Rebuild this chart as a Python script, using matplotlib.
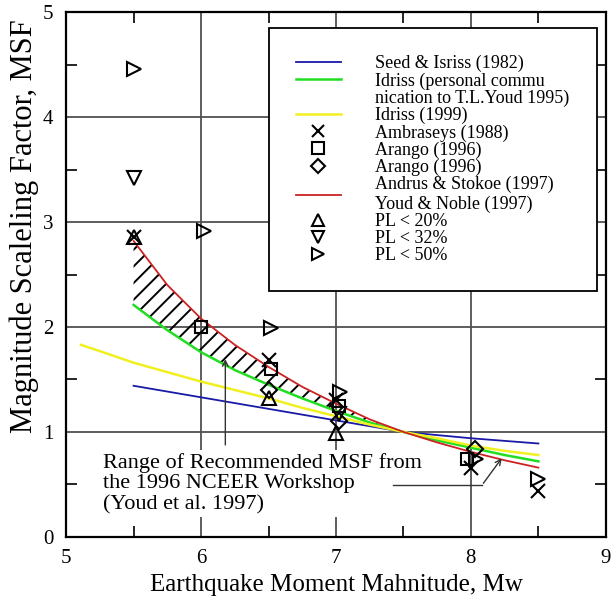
import numpy as np
import matplotlib
matplotlib.use("Agg")
import matplotlib.pyplot as plt
from matplotlib.lines import Line2D
from matplotlib.ticker import MultipleLocator

plt.rcParams['font.family'] = ['Liberation Serif', 'DejaVu Serif']
plt.rcParams['hatch.linewidth'] = 1.4

# curves (Mw, MSF)
seed_m = [5.5, 6.0, 6.5, 7.0, 7.5, 8.0, 8.5]
seed_msf = [1.44, 1.33, 1.22, 1.11, 1.00, 0.94, 0.89]

idriss95_m = [5.5, 5.75, 6.0, 6.25, 6.5, 6.75, 7.0, 7.25, 7.5, 7.75, 8.0, 8.25, 8.5]
idriss95_msf = [2.21, 1.97, 1.76, 1.59, 1.45, 1.32, 1.20, 1.09, 1.00, 0.92, 0.85, 0.78, 0.72]

idriss99_m = [5.11, 5.25, 5.5, 5.75, 6.0, 6.25, 6.5, 6.75, 7.0, 7.25, 7.5, 7.75, 8.0, 8.25, 8.5]
idriss99_msf = [1.83, 1.77, 1.66, 1.57, 1.48, 1.40, 1.32, 1.23, 1.15, 1.07, 1.00, 0.94, 0.87, 0.82, 0.78]

andrus_m = [5.5, 5.75, 6.0, 6.25, 6.5, 6.75, 7.0, 7.25, 7.5, 7.75, 8.0, 8.25, 8.5]
andrus_msf = [2.82, 2.40, 2.08, 1.83, 1.62, 1.43, 1.27, 1.12, 1.00, 0.90, 0.81, 0.73, 0.66]

# point data
ambraseys_m = [5.5, 6.5, 7.0, 8.0, 8.5]
ambraseys_msf = [2.86, 1.69, 1.30, 0.66, 0.44]
arango_sq_m = [6.0, 6.52, 7.02, 7.97]
arango_sq_msf = [2.00, 1.60, 1.25, 0.74]
arango_di_m = [6.5, 7.02, 8.03]
arango_di_msf = [1.40, 1.10, 0.84]
pl20_m = [5.5, 6.5, 7.0]
pl20_msf = [2.86, 1.32, 0.99]
pl32_m = [5.5, 7.02]
pl32_msf = [3.42, 1.17]
pl50_m = [5.5, 6.02, 6.52, 7.03, 8.04, 8.5]
pl50_msf = [4.46, 2.91, 1.99, 1.38, 0.74, 0.55]

fig = plt.figure(figsize=(6.12, 6.06), dpi=100)
ax = fig.add_axes([0.108, 0.114, 0.882, 0.866])

ax.set_xlim(5, 9)
ax.set_ylim(0, 5)

# hatched band between Idriss (1995) and Andrus & Stokoe
band_top = np.array(andrus_msf[:9])
band_bot = np.array(idriss95_msf[:9])
ax.fill_between(idriss95_m[:9], band_bot, band_top, facecolor='none',
                edgecolor='black', hatch='//', linewidth=0, zorder=2)

ax.plot(seed_m, seed_msf, color='#1a1aa6', lw=1.3, zorder=3)
ax.plot(idriss95_m, idriss95_msf, color='#22dd22', lw=1.8, zorder=3)
ax.plot(idriss99_m, idriss99_msf, color='#f0f020', lw=1.8, zorder=3)
ax.plot(andrus_m, andrus_msf, color='#cc2222', lw=1.3, zorder=3)

mk = dict(linestyle='none', mfc='none', mec='black', color='black', mew=1.5, ms=10, zorder=4)
ax.plot(ambraseys_m, ambraseys_msf, marker='x', **mk)
ax.plot(arango_sq_m, arango_sq_msf, marker='s', **dict(mk, ms=9))
ax.plot(arango_di_m, arango_di_msf, marker='D', **dict(mk, ms=8))
ax.plot(pl20_m, pl20_msf, marker='^', **mk)
ax.plot(pl32_m, pl32_msf, marker='v', **mk)
ax.plot(pl50_m, pl50_msf, marker='>', **mk)

# grid and ticks
ax.set_xticks([5, 6, 7, 8, 9])
ax.set_yticks([0, 1, 2, 3, 4, 5])
ax.xaxis.set_minor_locator(MultipleLocator(0.5))
ax.yaxis.set_minor_locator(MultipleLocator(0.5))
ax.grid(True, which='major', color='#505050', lw=1.3, zorder=1)
ax.set_axisbelow(True)
ax.tick_params(which='both', direction='in', top=True, right=True, labelsize=15)
ax.tick_params(which='major', length=0, pad=9)
ax.tick_params(which='minor', length=8, width=1.2)
for s in ax.spines.values():
    s.set_linewidth(1.6)

ax.set_xlabel('Earthquake Moment Mahnitude, Mw', fontsize=18, labelpad=4)
ax.set_ylabel('Magnitude Scaleling Factor, MSF', fontsize=22)
ax.yaxis.set_label_coords(-0.05, 0.592)

# annotation
ax.text(5.27, 0.51, 'Range of Recommended MSF from\nthe 1996 NCEER Workshop\n(Youd et al. 1997)',
        fontsize=16, ha='left', va='center', linespacing=1.12, zorder=5,
        bbox=dict(facecolor='white', edgecolor='none', pad=2))
ax.annotate('', xy=(6.18, 1.72), xytext=(6.18, 0.85),
            arrowprops=dict(arrowstyle='->', color='#333333', lw=1.0), zorder=6)
ax.plot([7.42, 8.08], [0.49, 0.49], color='#333333', lw=1.0, zorder=6)
ax.annotate('', xy=(8.24, 0.77), xytext=(8.08, 0.49),
            arrowprops=dict(arrowstyle='->', color='#333333', lw=1.0), zorder=6)

# legend
blank = Line2D([], [], linestyle='none', marker='none')
lmk = dict(linestyle='none', mfc='none', mec='black', mew=1.5)
handles = [
    Line2D([], [], color='#1a1aa6', lw=1.3),
    Line2D([], [], color='#22dd22', lw=1.8),
    blank,
    Line2D([], [], color='#f0f020', lw=1.8),
    Line2D([], [], marker='x', ms=9, **lmk),
    Line2D([], [], marker='s', ms=8, **lmk),
    Line2D([], [], marker='D', ms=7, **lmk),
    Line2D([], [], color='#cc2222', lw=1.3),
    Line2D([], [], marker='^', ms=9, **lmk),
    Line2D([], [], marker='v', ms=9, **lmk),
    Line2D([], [], marker='>', ms=9, **lmk),
]
labels = [
    'Seed & Isriss (1982)',
    'Idriss (personal commu',
    'nication to T.L.Youd 1995)',
    'Idriss (1999)',
    'Ambraseys (1988)',
    'Arango (1996)',
    'Arango (1996)',
    'Andrus & Stokoe (1997)\nYoud & Noble (1997)',
    'PL < 20%',
    'PL < 32%',
    'PL < 50%',
]
leg = ax.legend(handles, labels, loc='upper right', bbox_to_anchor=(0.983, 0.970),
                borderaxespad=0, fontsize=13, handlelength=2.5, handletextpad=1.9,
                labelspacing=0.0, borderpad=1.5, fancybox=False, framealpha=1,
                edgecolor='black')
leg.get_frame().set_linewidth(1.3)
leg.set_zorder(7)

fig.savefig('out.png', dpi=100)
